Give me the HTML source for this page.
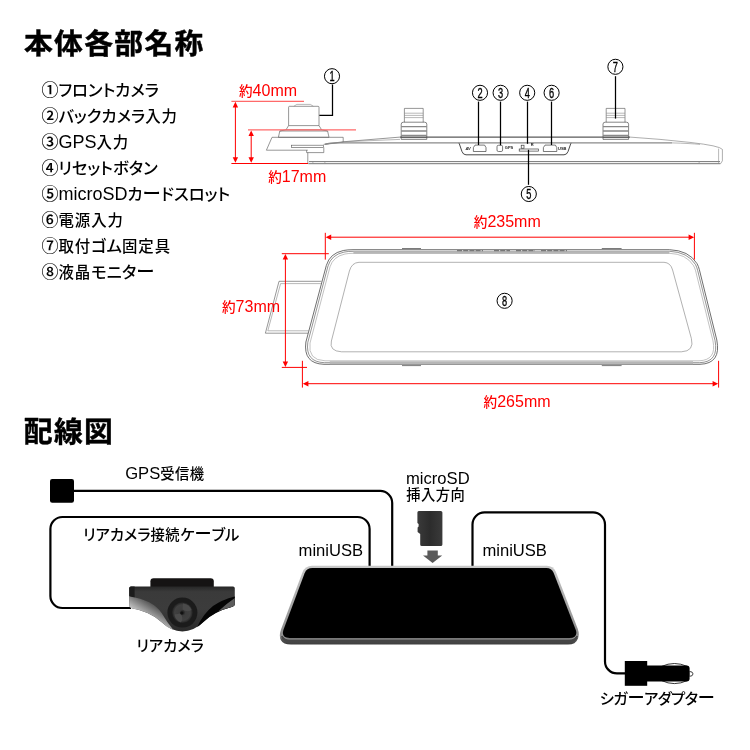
<!DOCTYPE html>
<html lang="ja">
<head>
<meta charset="utf-8">
<title>本体各部名称・配線図</title>
<style>
html,body{margin:0;padding:0;background:#fff;}
body{width:750px;height:750px;overflow:hidden;position:relative;font-family:"Liberation Sans","Noto Sans CJK JP",sans-serif;}
svg{position:absolute;left:0;top:0;display:block;will-change:transform;}
text{font-family:"Liberation Sans","Noto Sans CJK JP",sans-serif;}
.h{font-weight:700;font-size:28.8px;fill:#000;letter-spacing:1.3px;stroke:#000;stroke-width:.45px;stroke-linejoin:round;}
.li{font-size:16.4px;fill:#000;font-feature-settings:"palt" 1;font-weight:500;}
.li .e{font-size:18px;font-weight:400;}
.li .c{font-size:17px;font-weight:500;stroke:#000;stroke-width:.1px;}
.li .k{font-size:15.4px;letter-spacing:1px;}
.lb{font-size:15.3px;fill:#000;font-feature-settings:"palt" 1;font-weight:500;}
.lb .e{font-size:16.6px;font-weight:400;}
.lb .k{font-size:14.3px;letter-spacing:.5px;}
.n{font-feature-settings:"palt" 0;font-size:1.12em;}
.rd{font-size:13.6px;fill:#f00;font-weight:500;}
.rd .e{font-size:16px;font-weight:400;}
.cn{font-size:14px;fill:#000;text-anchor:middle;stroke:#000;stroke-width:.35px;}
.tiny{font-size:4px;font-weight:700;fill:#222;}
.ln{fill:none;stroke:#5e5e5e;stroke-width:.65;}
.lnl{fill:none;stroke:#888;stroke-width:.6;}
.ld{fill:none;stroke:#000;stroke-width:1.25;}
.rl{fill:none;stroke:#f00;stroke-width:1;}
.rlt{fill:none;stroke:#ff6a6a;stroke-width:1.2;}
.cb{fill:none;stroke:#000;stroke-width:2.2;stroke-linejoin:round;}
.cc{fill:#fff;stroke:#000;stroke-width:1;}
</style>
</head>
<body>
<svg width="750" height="750" viewBox="0 0 750 750">
<rect width="750" height="750" fill="#fff"/>

<!-- ===== headings ===== -->
<g id="headings">
<text class="h" x="24" y="54.4">本体各部名称</text>
<text class="h" x="23.8" y="442.4">配線図</text>
</g>

<!-- ===== parts list ===== -->
<g id="list">
<text class="li" x="41.4" y="95.8"><tspan class="c">①</tspan>フロントカメラ</text>
<text class="li" x="41.4" y="121.8"><tspan class="c">②</tspan>バックカメラ<tspan class="k">入力</tspan></text>
<text class="li" x="41.4" y="147.8"><tspan class="c">③</tspan><tspan class="e">GPS</tspan><tspan class="k">入力</tspan></text>
<text class="li" x="41.4" y="173.8"><tspan class="c">④</tspan>リセットボタン</text>
<text class="li" x="41.4" y="199.8"><tspan class="c">⑤</tspan><tspan class="e">microSD</tspan>カ<tspan class="n">ー</tspan>ドスロット</text>
<text class="li" x="41.4" y="225.8"><tspan class="c">⑥</tspan><tspan class="k">電源入力</tspan></text>
<text class="li" x="41.4" y="251.8"><tspan class="c">⑦</tspan><tspan class="k">取付</tspan>ゴム<tspan class="k">固定具</tspan></text>
<text class="li" x="41.4" y="277.8"><tspan class="c">⑧</tspan><tspan class="k">液晶</tspan>モニタ<tspan class="n">ー</tspan></text>
</g>

<!-- ===== top view (side profile) ===== -->
<g id="topview">
<!-- front camera -->
<g class="ln">
<path d="M288.6 125.6V107.2Q288.6 106.3 289.6 106.3H318Q319 106.3 319 107.2V125.6"/>
<path d="M293.8 106.3L296.8 104.4H310.4L313.4 106.3" class="lnl"/>
<path d="M288.6 125.6H319L321.6 129.8H286Z"/>
<path d="M286 129.8L279.8 131H327.6L321.6 129.8"/>
<path d="M279.8 131L278.4 137.3H329L327.6 131"/>
<path d="M272 137.3H343.2V142.2L325 144.3"/>
<path d="M272 137.3L266.4 150.2H307.8"/>
<rect x="291.4" y="145.2" width="32.2" height="2.3"/>
<path d="M307.8 152.6V163.6"/>
<path d="M306.6 150.2V152.6H323.8V147.5"/>
</g>
<!-- mirror body -->
<g class="ln">
<path d="M323.6 144.4L343 141.8L400 137.1" />
<path d="M400 137.1H630" style="stroke:#5a5a5a;stroke-width:1.2"/>
<path d="M630 137.1Q660 139 690 142.4T722.4 149.4V160.8L720.6 163.7" style="stroke:#777;stroke-width:.6"/>
<path d="M343 141.8L400 139.4" class="lnl"/>
<path d="M325 144.3Q330 142.6 343 142.9H459" style="stroke:#8a8a8a;stroke-width:1.2"/>
<path d="M571 142.9H672" style="stroke:#8a8a8a;stroke-width:1.1"/>
<path d="M672 142.9Q690 143.4 700 144.4" class="lnl"/>
<path d="M309 161.6H720" style="stroke:#666;stroke-width:.9"/>
<path d="M308.4 163.7H720.4" style="stroke:#666;stroke-width:.9"/>
<path d="M312 161.6L314 163.7M324 161.6L326 163.7M700 161.6L698 163.7M718.6 148.6V163.4" class="lnl"/>
</g>
<!-- rubber mounts -->
<g class="ln" id="mountL">
<path d="M404.4 122.2V108.4H423.2V122.2"/>
<path d="M404.4 113.2H423.2M404.4 115.4H423.2M404.4 117.6H423.2" class="lnl"/>
<path d="M401.2 139.4V124.2Q401.2 122.2 403.4 122.2H424.6Q426.8 122.2 426.8 124.2V139.4" style="stroke:#444"/>
<path d="M401.2 126.6H426.8M401.2 131H426.8M401.2 135.4H426.8" style="stroke:#888;stroke-width:1.3"/>
<path d="M401.2 137.4H426.8M401.2 139.3H426.8" style="stroke:#555;stroke-width:.8"/>
</g>
<g class="ln" id="mountR" transform="translate(201.8 0)">
<path d="M404.4 122.2V108.4H423.2V122.2"/>
<path d="M404.4 113.2H423.2M404.4 115.4H423.2M404.4 117.6H423.2" class="lnl"/>
<path d="M401.2 139.4V124.2Q401.2 122.2 403.4 122.2H424.6Q426.8 122.2 426.8 124.2V139.4" style="stroke:#444"/>
<path d="M401.2 126.6H426.8M401.2 131H426.8M401.2 135.4H426.8" style="stroke:#888;stroke-width:1.3"/>
<path d="M401.2 137.4H426.8M401.2 139.3H426.8" style="stroke:#555;stroke-width:.8"/>
</g>
<!-- port panel -->
<g class="ln" style="stroke:#333">
<path d="M459 142.9L462 151.6Q463.2 154.8 466 154.8H564Q566.8 154.8 568 151.6L571 142.9" style="stroke-width:.9"/>
<path d="M459 142.9H571" style="stroke:#8a8a8a;stroke-width:1.1"/>
<path d="M475 145.1H484.6L486 147.6V151.5H473.4V147.6Z"/>
<rect x="497" y="145.3" width="5.6" height="6.2" rx="1.4"/>
<rect x="519.2" y="149" width="19.4" height="2.1"/>
<rect x="521.2" y="145.2" width="2.8" height="3"/>
<path d="M545 145.1H555.4L556.8 147.6V151.5H543.4V147.6Z"/>
</g>
<text class="tiny" x="465.4" y="149.8" style="font-style:italic">AV</text>
<text class="tiny" x="504.8" y="149">GPS</text>
<text class="tiny" x="530.8" y="146.2">R</text>
<text class="tiny" x="558" y="149.8">USB</text>
<!-- leaders -->
<g class="ld">
<path d="M332.5 84.6V115.4H319.4"/>
<path d="M478.5 101.6V145"/>
<path d="M500.5 101.6V145.2"/>
<path d="M527.5 101.6V143.8"/>
<path d="M551.5 101.6V145"/>
<path d="M528.5 149.8V184.8"/>
<path d="M615.5 76.2V118.6"/>
</g>
<!-- circled numbers -->
<g>
<circle class="cc" cx="332.0" cy="76.2" r="7.55"/><text class="cn" transform="translate(332.0 81.2) scale(.66 1)">1</text>
<circle class="cc" cx="480.0" cy="92.8" r="7.55"/><text class="cn" transform="translate(480.0 97.8) scale(.66 1)">2</text>
<circle class="cc" cx="500.6" cy="92.8" r="7.55"/><text class="cn" transform="translate(500.6 97.8) scale(.66 1)">3</text>
<circle class="cc" cx="527.2" cy="92.8" r="7.55"/><text class="cn" transform="translate(527.2 97.8) scale(.66 1)">4</text>
<circle class="cc" cx="551.6" cy="92.8" r="7.55"/><text class="cn" transform="translate(551.6 97.8) scale(.66 1)">6</text>
<circle class="cc" cx="528.8" cy="194.0" r="7.55"/><text class="cn" transform="translate(528.9 198.6) scale(.66 1)">5</text>
<circle class="cc" cx="615.4" cy="66.8" r="7.55"/><text class="cn" transform="translate(615.4 71.8) scale(.66 1)">7</text>
</g>
<!-- red dimensions -->
<g>
<path class="rlt" d="M231.4 101.4H304M248 129.9H356"/>
<path class="rl" d="M231.4 163.5H308"/>
<path class="rl" d="M235.4 104V160.5M251.2 132.5V160.5"/>
<path fill="#f00" d="M235.4 101.8l2.7 5.6h-5.4zM235.4 162.8l2.7-5.6h-5.4zM251.2 130.4l2.7 5.6h-5.4zM251.2 162.8l2.7-5.6h-5.4z"/>
<text class="rd" x="239.0" y="96.0">約<tspan class="e">40mm</tspan></text>
<text class="rd" x="268.2" y="182.4">約<tspan class="e">17mm</tspan></text>
</g>
</g>

<!-- ===== front view ===== -->
<g id="frontview">
<!-- bracket behind -->
<path class="ln" d="M321.4 281.3H279L265.4 333.2H308"/>
<path class="lnl" d="M320.8 283.6H280.6L267.8 330.8H308.6"/>
<!-- outer body -->
<path class="ln" style="stroke:#4a4a4a;stroke-width:.8" d="M353 249.7H669.5Q689 250.4 697 263.6Q698.6 266.4 699.4 269.8L716.8 340Q721.4 363.6 700 364.3H324Q303 363.6 305.9 342L326.3 265.5Q329.8 253.4 343.3 250.5Q347.6 249.7 353 249.7Z"/>
<path class="ln" style="stroke:#666;stroke-width:.7" d="M353 251.3H669.5Q687.6 252 695.4 264.4Q696.8 267 697.6 270.2L715 340.4Q719.2 362 699.6 362.7H324.4Q305.2 362 307.8 342.4L328 266Q331.4 254.8 344 252.1Q348 251.3 353 251.3Z"/>
<path class="lnl" style="stroke:#999;stroke-width:.6" d="M353 253.3H669.5Q686 253.9 693.4 265.4Q694.8 267.8 695.6 270.8L713 341Q716.8 360.2 699 360.8H325Q307.6 360.2 310 343L330 266.8Q333.2 256.6 345 254Q348.6 253.3 353 253.3Z"/>
<!-- thick gray rims -->
<path d="M353.4 252.5H669.4" stroke="#b6b6b6" stroke-width="2.7" fill="none"/>
<path d="M329.8 362.8H693" stroke="#b6b6b6" stroke-width="3.1" fill="none"/>
<!-- tabs -->
<path class="ln" style="stroke:#333" d="M402 248.5H421M601.8 248.5H621.6M402 365.6H421M601.8 365.6H621.6"/>
<path d="M457 250.6H483M494 250.6H510M516 250.6H535M541 250.6H567" stroke="#777" stroke-width="1.2" fill="none" stroke-dasharray="5 1.2"/>
<!-- inner screen -->
<path class="lnl" style="stroke:#7c7c7c;stroke-width:.6" d="M359 262.3H664Q670.6 262.6 672.6 270L691.4 338.6Q694.6 351.2 681.4 351.8H341.6Q329 351.2 331.4 341L349.4 271Q351.8 262.6 359 262.3Z"/>
<!-- circle 8 -->
<circle class="cc" cx="504.6" cy="300.8" r="7.55"/><text class="cn" transform="translate(504.6 305.8) scale(.66 1)">8</text>
<!-- red dimensions -->
<g>
<path class="rl" d="M328 237.2H692M325.3 232.8V259.6M694.4 232.8V259.6"/>
<path fill="#f00" d="M325.6 237.2l5.6-2.7v5.4zM694.2 237.2l-5.6-2.7v5.4z"/>
<path class="rl" d="M305 383.7H716M302.4 360.8V387.6M718.6 360.8V387.6"/>
<path fill="#f00" d="M302.8 383.7l5.6-2.7v5.4zM718.2 383.7l-5.6-2.7v5.4z"/>
<path class="rl" d="M281.8 253.7H328.8M281.8 367.4H307"/>
<path class="rl" d="M285.4 256V365"/>
<path fill="#f00" d="M285.4 254l2.7 5.6h-5.4zM285.4 367l2.7-5.6h-5.4z"/>
<text class="rd" x="473.8" y="227">約<tspan class="e">235mm</tspan></text>
<text class="rd" x="483.6" y="406.6">約<tspan class="e">265mm</tspan></text>
<text class="rd" x="222" y="312.4">約<tspan class="e">73mm</tspan></text>
</g>
</g>
<!-- ===== wiring diagram ===== -->
<defs>
<linearGradient id="camBody" x1="0" y1="0" x2="0" y2="1">
<stop offset="0" stop-color="#262626"/><stop offset=".12" stop-color="#3a3a3a"/><stop offset=".5" stop-color="#3c3c3c"/><stop offset="1" stop-color="#2a2a2a"/>
</linearGradient>
<linearGradient id="camShine" gradientUnits="userSpaceOnUse" x1="150" y1="600" x2="140" y2="616">
<stop offset="0" stop-color="#464646"/><stop offset=".45" stop-color="#858585"/><stop offset="1" stop-color="#d4d4d4"/>
</linearGradient>
<radialGradient id="lens" cx=".5" cy=".5" r=".5">
<stop offset="0" stop-color="#161616"/><stop offset=".3" stop-color="#3c3c3c"/><stop offset=".75" stop-color="#404040"/><stop offset="1" stop-color="#222"/>
</radialGradient>
<linearGradient id="rimB" x1="0" y1="0" x2="0" y2="1">
<stop offset="0" stop-color="#c8c8c8"/><stop offset=".9" stop-color="#8a8a8a"/><stop offset=".93" stop-color="#555"/><stop offset="1" stop-color="#3c3c3c"/>
</linearGradient>
<linearGradient id="sdg" x1="0" y1="0" x2="1" y2="0">
<stop offset="0" stop-color="#3a3a3a"/><stop offset=".5" stop-color="#2c2c2c"/><stop offset="1" stop-color="#3a3a3a"/>
</linearGradient>
</defs>
<g id="wiring">
<!-- cables -->
<path class="cb" d="M74 490.9H380.2A12 12 0 0 1 392.2 502.9V568"/>
<path class="cb" d="M131 608H62.4A12 12 0 0 1 50.4 596V529A12 12 0 0 1 62.4 517H357.6A12 12 0 0 1 369.6 529V568"/>
<path class="cb" d="M472.5 568V524.4A12 12 0 0 1 484.5 512.4H593A12 12 0 0 1 605 524.4V661.4A12 12 0 0 0 617 673.4H626"/>
<!-- gps receiver -->
<rect x="50" y="479" width="24" height="23.8" rx="2.2" fill="#000"/>
<!-- mirror -->
<g id="mirror">
<path d="M312 565.7H546.8Q553.2 565.7 555.8 571.8L577.8 629Q579.6 634 578 638.4Q575.6 644.6 568 644.6H291Q283.2 644.6 280.8 640Q278.8 636 281 629.6L302.4 572.4Q305 565.7 312 565.7Z" fill="url(#rimB)"/>
<path d="M282 636Q283.6 641.2 290.4 641.2H568.4Q575.4 641.2 577 636" fill="none" stroke="#454545" stroke-width="2.2"/>
<path d="M282.4 634Q283.4 639 290 639H568.8Q575.6 639 576.6 634" fill="none" stroke="#9a9a9a" stroke-width=".8"/>
<path d="M312.4 568.1H546.4Q551.6 568.1 553.6 572.8L575.8 630Q578.2 638 569.4 638H289.6Q281 638 283.4 630L304.6 573.2Q306.8 568.1 312.4 568.1Z" fill="#000"/>
</g>
<!-- microSD -->
<path d="M418.8 511H440.8Q442.4 511 442.4 512.6V544.4Q442.4 546 440.8 546H421.8Q420.2 546 420.2 544.4V534L417.6 532V527.6L418.6 526.6V524L417.4 523V512.6Q417.4 511 418.8 511Z" fill="url(#sdg)"/>
<path d="M427.4 550.6H437.8V555.6H442.2L432.6 563L423 555.6H427.4Z" fill="#5a5a5a"/>
<!-- rear camera -->
<g id="rearcam">
<path d="M150.4 587.4V581.2Q150.4 578.2 153.6 578.2H210.6Q213.8 578.2 213.8 581.2V587.4Z" fill="#151313"/>
<path d="M131 586.4H233Q234.8 586.4 234.8 588.2V604Q234.8 606.2 232.4 606.8Q214 611.6 203.4 622Q193.6 631.4 182.4 631.4Q171.2 631.4 161.4 622Q150.6 611.6 131.8 608.2Q129.2 607.6 129.2 605.4V588.2Q129.2 586.4 131 586.4Z" fill="url(#camBody)"/>
<path d="M129.2 588.2Q129.2 586.4 131 586.4H134.6V598L129.2 596Z" fill="#1c1c1c"/>
<path d="M129.2 596.4V605.4Q129.2 607.6 131.8 608.2Q150.6 611.6 161.4 622Q167 627.6 173.4 630Q166.6 621.6 161.6 613Q153 599.8 129.2 596.4Z" fill="url(#camShine)"/>
<path d="M234.8 596.4V604Q234.8 606.2 232.4 606.8Q214 611.6 203.4 622Q200.4 625 197.2 627Q203 614 213 606Q222 599.6 234.8 596.4Z" fill="#050505"/>
<path d="M234.8 598V604Q234.8 606.2 232.4 606.8Q225 608.6 218 611.6Q226 604 234.8 598Z" fill="#5c5c5c"/>
<circle cx="182.4" cy="612.6" r="15" fill="#1b1b1b"/>
<circle cx="182.4" cy="612.6" r="10.4" fill="url(#lens)"/>
<path d="M174.6 614.6Q175 620.4 181 622.6Q184 618 180.4 613.4Z" fill="#4c4c4c"/>
<path d="M183 603.4Q189.6 604 191.6 610Q187 612.6 182.6 609.6Z" fill="#4a4a4a"/>
<circle cx="181.8" cy="613" r="1.6" fill="#111"/>
</g>
<!-- cigar adapter -->
<g id="cigar">
<path d="M661.6 666.4Q674.4 660.6 687.2 666.4M661.6 680.6Q674.4 686.6 687.2 680.6" fill="none" stroke="#000" stroke-width=".8"/>
<rect x="624.8" y="661" width="22.4" height="24.8" fill="#000"/>
<path d="M646 665.4H686.6Q689.6 665.4 689.6 668.4V678.6Q689.6 681.6 686.6 681.6H646Z" fill="#000"/>
<path d="M689.4 671.4Q693 671.6 693 673.9Q693 676.2 689.4 676.4Z" fill="#fff" stroke="#111" stroke-width=".8"/>
</g>
<!-- labels -->
<text class="lb" x="125.2" y="478.6"><tspan class="e">GPS</tspan><tspan class="k">受信機</tspan></text>
<text class="lb" x="83" y="539.6">リアカメラ<tspan class="k">接続</tspan>ケ<tspan class="n">ー</tspan>ブル</text>
<text class="lb" x="136.4" y="651.4">リアカメラ</text>
<text class="lb" x="298.6" y="556"><tspan class="e">miniUSB</tspan></text>
<text class="lb" x="482.4" y="556"><tspan class="e">miniUSB</tspan></text>
<text class="lb" x="406" y="483.6"><tspan class="e">microSD</tspan></text>
<text class="lb" x="406.2" y="499.8"><tspan class="k">挿入方向</tspan></text>
<text class="lb" x="599.6" y="704.2" textLength="115.2" lengthAdjust="spacing">シガ<tspan class="n">ー</tspan>アダプタ<tspan class="n">ー</tspan></text>
</g>

</svg>
</body>
</html>
